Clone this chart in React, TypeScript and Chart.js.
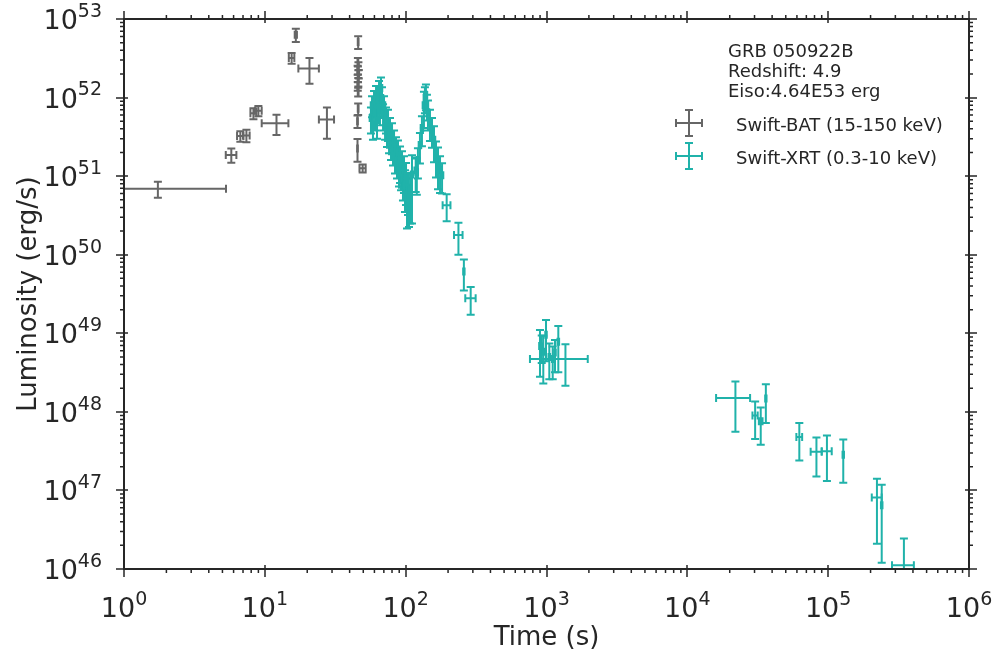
import React, { useEffect, useRef } from "react";
import { Chart, registerables } from "chart.js";

Chart.register(...registerables);

// ---- Swift-BAT (15-150 keV) ----
const batTime = [1.74, 5.78, 6.7, 7.4, 8.3, 9.0, 12.1, 15.5, 16.6, 20.75, 27.6, 46.0, 45.8, 46.2, 45.6, 46.4, 45.9, 46.1, 45.7, 46.0, 46.0, 45.5, 45.5, 49.5];
const batTimeErr = [3.56, 0.5, 0.35, 0.4, 0.4, 0.5, 2.6, 0.7, 0.3, 3.45, 3.4, 0.3, 0.3, 0.3, 0.3, 0.3, 0.3, 0.3, 0.3, 0.3, 0.3, 0.3, 0.3, 2.5];
const batLum = [6.9e50, 1.86e51, 3.24e51, 3.3e51, 6.3e51, 6.8e51, 4.7e51, 3.2e52, 6.3e52, 2.35e52, 5.25e51, 5.1e52, 2.84e52, 2.52e52, 2.25e52, 2.0e52, 1.77e52, 1.58e52, 1.4e52, 1.18e52, 7.2e51, 5.0e51, 2.24e51, 1.26e51];
const batLumErr = [1.6e50, 0.38e51, 0.5e51, 0.6e51, 1.0e51, 1.0e51, 1.35e51, 0.5e52, 1.2e52, 0.85e52, 2.25e51, 0.95e52, 0.35e52, 0.3e52, 0.3e52, 0.25e52, 0.2e52, 0.2e52, 0.18e52, 0.15e52, 1.2e51, 0.9e51, 0.72e51, 0.15e51];

// ---- Swift-XRT (0.3-10 keV) ----
const xrtTime = [56.7, 57.7, 58.6, 59.6, 60.6, 61.6, 62.6, 63.6, 64.7, 65.7, 66.8, 67.9, 69.1, 70.2, 71.4, 72.5, 73.7, 74.9, 76.2, 77.4, 78.7, 80.0, 81.3, 82.7, 84.0, 85.4, 86.8, 88.2, 89.7, 91.2, 92.7, 94.2, 95.7, 97.3, 98.9, 100.6, 102.2, 103.9, 105.6, 107.4, 110.9, 117.8, 120.0, 122.2, 126.3, 130.5, 134.8, 137.0, 139.3, 141.6, 144.0, 148.8, 153.8, 158.9, 164.2, 169.7, 175.4, 181.3, 195.5, 237, 259, 289.5, 899, 925, 949, 992, 1047, 1107, 1149, 1213, 1363, 21950, 30300, 33200, 36100, 62400, 82550, 98000, 128000, 222000, 240000, 345000];
const xrtTimeErr = [1.2, 1.2, 1.2, 1.2, 1.2, 1.2, 1.3, 1.3, 1.3, 1.3, 1.4, 1.4, 1.4, 1.4, 1.5, 1.5, 1.5, 1.5, 1.6, 1.6, 1.6, 1.6, 1.7, 1.7, 1.7, 1.7, 1.8, 1.8, 1.8, 1.9, 1.9, 1.9, 2.0, 2.0, 2.0, 2.1, 2.1, 2.1, 2.2, 2.2, 2.3, 2.4, 2.4, 2.5, 2.6, 2.7, 2.8, 2.8, 2.9, 2.9, 3.0, 3.1, 3.2, 3.3, 3.4, 3.5, 3.6, 3.7, 12.5, 16.5, 3, 24.5, 12, 12, 12, 12, 14, 14, 15, 16, 600, 5950, 1300, 1000, 400, 2950, 7450, 8000, 1500, 18000, 3000, 61000];
const xrtLum = [5.5e51, 8.0e51, 4.5e51, 9.3e51, 6.5e51, 1.08e52, 5.2e51, 8.8e51, 1.25e52, 6.95e51, 1.32e52, 9.9e51, 6.0e51, 8.0e51, 4.5e51, 5.5e51, 3.65e51, 4.9e51, 3.05e51, 3.9e51, 2.5e51, 3.3e51, 2.15e51, 2.7e51, 1.86e51, 2.3e51, 1.6e51, 2.0e51, 1.27e51, 1.6e51, 1.13e51, 1.39e51, 9.5e50, 1.2e51, 7.7e50, 9.5e50, 5.75e50, 7.1e50, 5.0e50, 6.7e50, 1.05e51, 1.18e51, 1.13e51, 1.6e51, 2.5e51, 4.1e51, 8.0e51, 9.9e51, 1.08e52, 8.0e51, 6.5e51, 4.9e51, 3.9e51, 2.9e51, 1.86e51, 1.5e51, 1.2e51, 1.03e51, 4.27e50, 1.78e50, 6.1e49, 2.8e49, 6.9e48, 6.8e48, 5.8e48, 9.6e48, 5.0e48, 4.7e48, 5.7e48, 7.8e48, 4.7e48, 1.5e48, 9.0e47, 7.6e47, 1.48e48, 4.8e47, 3.1e47, 3.16e47, 2.85e47, 8.1e46, 6.5e46, 1.12e46];
const xrtLumErr = [2.0e51, 2.4e51, 1.6e51, 2.8e51, 2.7e51, 3.2e51, 2.2e51, 3.2e51, 3.8e51, 2.5e51, 4.8e51, 3.6e51, 2.2e51, 2.4e51, 1.6e51, 2.0e51, 1.3e51, 2.1e51, 1.1e51, 1.6e51, 0.9e51, 1.4e51, 0.78e51, 1.1e51, 0.78e51, 0.83e51, 0.67e51, 0.84e51, 0.53e51, 0.78e51, 0.47e51, 0.68e51, 4.6e50, 5.9e50, 4.2e50, 5.2e50, 3.6e50, 3.9e50, 2.75e50, 4.2e50, 8.0e50, 5.5e50, 5.5e50, 6.7e50, 1.05e51, 1.7e51, 3.9e51, 3.6e51, 3.9e51, 2.9e51, 2.7e51, 2.1e51, 1.6e51, 1.4e51, 0.9e51, 0.82e51, 0.59e51, 0.43e51, 1.6e50, 0.78e50, 2.6e49, 1.08e49, 4.1e48, 2.6e48, 3.5e48, 5.2e48, 2.4e48, 2.1e48, 2.5e48, 4.6e48, 2.55e48, 9.4e47, 4.5e47, 3.8e47, 7.6e47, 2.4e47, 1.6e47, 1.84e47, 1.6e47, 6.0e46, 5.3e46, 1.33e46];

// ---- axes / labels ----
const xTickExps = [0, 1, 2, 3, 4, 5, 6];
const yTickExps = [46, 47, 48, 49, 50, 51, 52, 53];
const xAxisTitle = "Time (s)";
const yAxisTitle = "Luminosity (erg/s)";
const infoLines = ["GRB 050922B", "Redshift: 4.9", "Eiso:4.64E53 erg"];
const seriesLabels = ["Swift-BAT (15-150 keV)", "Swift-XRT (0.3-10 keV)"];
const seriesColors = ["#666666", "#20b2aa"];

const FONT = '"DejaVu Sans", sans-serif';
const TEXT = "#262626";

function build(t: number[], te: number[], l: number[], le: number[]) {
  return t.map((x, i) => ({ x, y: l[i], xe: te[i], ye: le[i] }));
}

const errorBarPlugin = {
  id: "errorBars",
  afterDatasetsDraw(chart: any) {
    const { ctx, chartArea: a, scales } = chart;
    const xs = scales.x, ys = scales.y;
    const cap = 4;
    ctx.save();
    ctx.beginPath();
    ctx.rect(a.left, a.top, a.right - a.left, a.bottom - a.top);
    ctx.clip();
    chart.data.datasets.forEach((ds: any) => {
      ctx.strokeStyle = ds.borderColor;
      ctx.lineWidth = 2;
      ds.data.forEach((d: any) => {
        const px = xs.getPixelForValue(d.x);
        const py = ys.getPixelForValue(d.y);
        const x0 = d.x - d.xe > 0 ? xs.getPixelForValue(d.x - d.xe) : a.left - 30;
        const x1 = xs.getPixelForValue(d.x + d.xe);
        const y0 = d.y - d.ye > 0 ? ys.getPixelForValue(d.y - d.ye) : a.bottom + 30;
        const y1 = ys.getPixelForValue(d.y + d.ye);
        ctx.beginPath();
        ctx.moveTo(x0, py); ctx.lineTo(x1, py);
        ctx.moveTo(px, y0); ctx.lineTo(px, y1);
        ctx.moveTo(x0, py - cap); ctx.lineTo(x0, py + cap);
        ctx.moveTo(x1, py - cap); ctx.lineTo(x1, py + cap);
        ctx.moveTo(px - cap, y0); ctx.lineTo(px + cap, y0);
        ctx.moveTo(px - cap, y1); ctx.lineTo(px + cap, y1);
        ctx.stroke();
      });
    });
    ctx.restore();
  },
};

function drawPow(ctx: CanvasRenderingContext2D, exp: number, x: number, base: number, align: "center" | "right", big: number, small: number) {
  ctx.font = `${big}px ${FONT}`;
  const w1 = ctx.measureText("10").width;
  ctx.font = `${small}px ${FONT}`;
  const w2 = ctx.measureText(String(exp)).width;
  const total = w1 + w2;
  const start = align === "center" ? x - total / 2 : x - total;
  ctx.textAlign = "left";
  ctx.textBaseline = "alphabetic";
  ctx.font = `${big}px ${FONT}`;
  ctx.fillText("10", start, base);
  ctx.font = `${small}px ${FONT}`;
  ctx.fillText(String(exp), start + w1, base - big * 0.45);
}

const axesPlugin = {
  id: "mplAxes",
  afterDraw(chart: any) {
    const { ctx, chartArea: a, scales } = chart;
    const xs = scales.x, ys = scales.y;
    ctx.save();
    ctx.strokeStyle = TEXT;
    ctx.fillStyle = TEXT;
    // ticks
    ctx.lineWidth = 1.5;
    ctx.beginPath();
    for (let e = 0; e <= 6; e++) {
      const px = Math.round(xs.getPixelForValue(Math.pow(10, e))) ;
      ctx.moveTo(px, a.bottom - 4); ctx.lineTo(px, a.bottom + 8);
      ctx.moveTo(px, a.top + 4); ctx.lineTo(px, a.top - 8);
      if (e < 6) for (let m = 2; m <= 9; m++) {
        const mx = xs.getPixelForValue(m * Math.pow(10, e));
        ctx.moveTo(mx, a.bottom); ctx.lineTo(mx, a.bottom + 4);
        ctx.moveTo(mx, a.top); ctx.lineTo(mx, a.top - 4);
      }
    }
    for (let e = 46; e <= 53; e++) {
      const py = Math.round(ys.getPixelForValue(Math.pow(10, e)));
      ctx.moveTo(a.left + 4, py); ctx.lineTo(a.left - 8, py);
      ctx.moveTo(a.right - 4, py); ctx.lineTo(a.right + 8, py);
      if (e < 53) for (let m = 2; m <= 9; m++) {
        const my = ys.getPixelForValue(m * Math.pow(10, e));
        ctx.moveTo(a.left, my); ctx.lineTo(a.left - 4, my);
        ctx.moveTo(a.right, my); ctx.lineTo(a.right + 4, my);
      }
    }
    ctx.stroke();
    // frame
    ctx.lineWidth = 2;
    ctx.strokeRect(a.left, a.top, a.right - a.left, a.bottom - a.top);
    // tick labels
    xTickExps.forEach((e) => {
      const px = xs.getPixelForValue(Math.pow(10, e));
      drawPow(ctx, e, px, a.bottom + 48, "center", 27, 19);
    });
    yTickExps.forEach((e) => {
      const py = ys.getPixelForValue(Math.pow(10, e));
      drawPow(ctx, e, a.left - 22, py + 10, "right", 27, 19);
    });
    // axis titles
    ctx.font = `26px ${FONT}`;
    ctx.textAlign = "center";
    ctx.textBaseline = "alphabetic";
    ctx.fillText(xAxisTitle, (a.left + a.right) / 2, 645);
    ctx.save();
    ctx.translate(36, (a.top + a.bottom) / 2);
    ctx.rotate(-Math.PI / 2);
    ctx.fillText(yAxisTitle, 0, 0);
    ctx.restore();
    // info text
    ctx.font = `18px ${FONT}`;
    ctx.textAlign = "left";
    infoLines.forEach((s, i) => ctx.fillText(s, 728, 57 + i * 20));
    // legend
    seriesLabels.forEach((s, i) => {
      const cy = 123 + i * 33;
      const cx = 689;
      ctx.strokeStyle = seriesColors[i];
      ctx.lineWidth = 2;
      ctx.beginPath();
      ctx.moveTo(cx - 13, cy); ctx.lineTo(cx + 13, cy);
      ctx.moveTo(cx - 13, cy - 4); ctx.lineTo(cx - 13, cy + 4);
      ctx.moveTo(cx + 13, cy - 4); ctx.lineTo(cx + 13, cy + 4);
      ctx.moveTo(cx, cy - 13); ctx.lineTo(cx, cy + 13);
      ctx.moveTo(cx - 4, cy - 13); ctx.lineTo(cx + 4, cy - 13);
      ctx.moveTo(cx - 4, cy + 13); ctx.lineTo(cx + 4, cy + 13);
      ctx.stroke();
      ctx.fillStyle = TEXT;
      ctx.fillText(s, 736, cy + 8);
    });
    ctx.restore();
  },
};

export default function App() {
  const ref = useRef<HTMLCanvasElement>(null);
  useEffect(() => {
    if (!ref.current) return;
    const chart = new Chart(ref.current, {
      type: "scatter",
      data: {
        datasets: [
          { label: seriesLabels[0], data: build(batTime, batTimeErr, batLum, batLumErr), borderColor: seriesColors[0], backgroundColor: seriesColors[0], pointRadius: 0 },
          { label: seriesLabels[1], data: build(xrtTime, xrtTimeErr, xrtLum, xrtLumErr), borderColor: seriesColors[1], backgroundColor: seriesColors[1], pointRadius: 0 },
        ],
      },
      options: {
        animation: false,
        responsive: false,
        devicePixelRatio: 1,
        layout: { padding: { left: 124, right: 24, top: 19, bottom: 86 } },
        plugins: { legend: { display: false }, tooltip: { enabled: false } },
        scales: {
          x: { type: "logarithmic", min: 1, max: 1e6, display: false },
          y: { type: "logarithmic", min: 1e46, max: 1e53, display: false },
        },
      },
      plugins: [errorBarPlugin, axesPlugin],
    } as any);
    return () => chart.destroy();
  }, []);
  return (
    <div style={{ position: "absolute", left: 0, top: 0, width: 993, height: 655, background: "#fff" }}>
      <canvas ref={ref} width={993} height={655} />
    </div>
  );
}
